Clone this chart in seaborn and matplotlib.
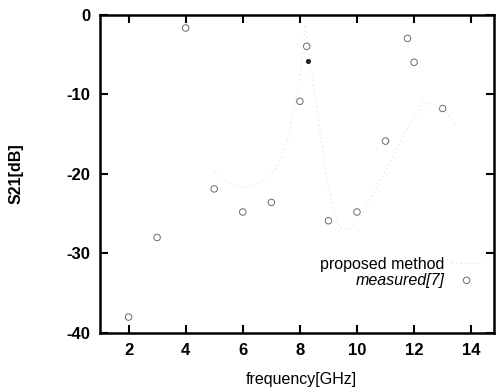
import matplotlib
matplotlib.use('Agg')
import matplotlib.pyplot as plt
import seaborn as sns
import pandas as pd

# measured points (open markers)
meas_freq = [2, 3, 4, 5, 6, 7, 8, 8.24, 9, 10, 11, 11.77, 12, 13]
meas_s21 = [-38, -28, -1.7, -21.9, -24.8, -23.6, -10.9, -4.0, -25.9, -24.8, -15.9, -3.0, -6.0, -11.8]
# the one filled point
filled_freq = [8.27]
filled_s21 = [-5.8]

# proposed method curve (mostly faded in the scan)
prop_freq = [5.0, 5.3, 5.6, 6.0, 6.4, 6.8, 7.2, 7.6, 8.0, 8.2, 8.6, 9.0, 9.4, 9.7,
             10.2, 10.8, 11.3, 11.7, 12.3, 12.8, 13.1, 13.5]
prop_s21 = [-19.8, -20.6, -21.3, -21.7, -21.5, -20.6, -19.2, -15.5, -8.0, -1.3, -12.0, -22.0,
            -26.8, -27.0, -25.0, -21.0, -17.5, -14.7, -11.0, -11.4, -12.3, -14.0]

x_ticks = [2, 4, 6, 8, 10, 12, 14]
y_ticks = [0, -10, -20, -30, -40]

sns.set_style('ticks')
plt.rcParams['font.family'] = ['Liberation Sans', 'DejaVu Sans']
plt.rcParams['axes.unicode_minus'] = False
plt.rcParams['text.color'] = 'black'
plt.rcParams['axes.labelcolor'] = 'black'
plt.rcParams['xtick.color'] = 'black'
plt.rcParams['ytick.color'] = 'black'

df_meas = pd.DataFrame({'f': meas_freq, 's': meas_s21})
df_fill = pd.DataFrame({'f': filled_freq, 's': filled_s21})
df_prop = pd.DataFrame({'f': prop_freq, 's': prop_s21})

fig = plt.figure(figsize=(4.98, 3.92), dpi=100)
ax = fig.add_axes([0.2008, 0.1505, 0.7912, 0.8125])

sns.lineplot(data=df_prop, x='f', y='s', ax=ax, color='#dddddd', lw=0.8,
             linestyle=(0, (1, 3)), label='proposed method', sort=False)
sns.scatterplot(data=df_meas, x='f', y='s', ax=ax, marker='o', s=22,
                facecolor='none', edgecolor='#6a6a6a', linewidth=0.7,
                label='measured[7]')
sns.scatterplot(data=df_fill, x='f', y='s', ax=ax, marker='o', s=14,
                color='#222222', linewidth=0, legend=False)

ax.set_xlim(1, 14.8)
ax.set_ylim(-40, 0)
ax.set_xticks(x_ticks)
ax.set_yticks(y_ticks)
ax.tick_params(direction='in', length=6, width=1.5, top=True, right=True,
               labelsize=12, pad=7)
for lab in ax.get_xticklabels() + ax.get_yticklabels():
    lab.set_fontweight('bold')
for sp in ax.spines.values():
    sp.set_linewidth(1.8)
    sp.set_color('black')

ax.set_xlabel('frequency[GHz]', fontsize=11.5)
ax.set_ylabel('S21[dB]', fontsize=11.5, fontweight='bold')
ax.xaxis.set_label_coords(0.51, -0.122)
ax.yaxis.set_label_coords(-0.195, 0.5)

handles, labels = ax.get_legend_handles_labels()
leg1 = ax.legend([handles[0]], [labels[0]], loc='center right',
                 bbox_to_anchor=(0.971, 0.2166), frameon=False, markerfirst=False,
                 fontsize=11.5, handletextpad=0.4, borderpad=0, borderaxespad=0)
ax.add_artist(leg1)
leg2 = ax.legend([handles[1]], [labels[1]], loc='center right',
                 bbox_to_anchor=(0.971, 0.1664), frameon=False, markerfirst=False,
                 fontsize=11.5, handletextpad=0.4, borderpad=0, borderaxespad=0)
leg2.get_texts()[0].set_fontstyle('italic')

fig.savefig('out.png', dpi=100)
